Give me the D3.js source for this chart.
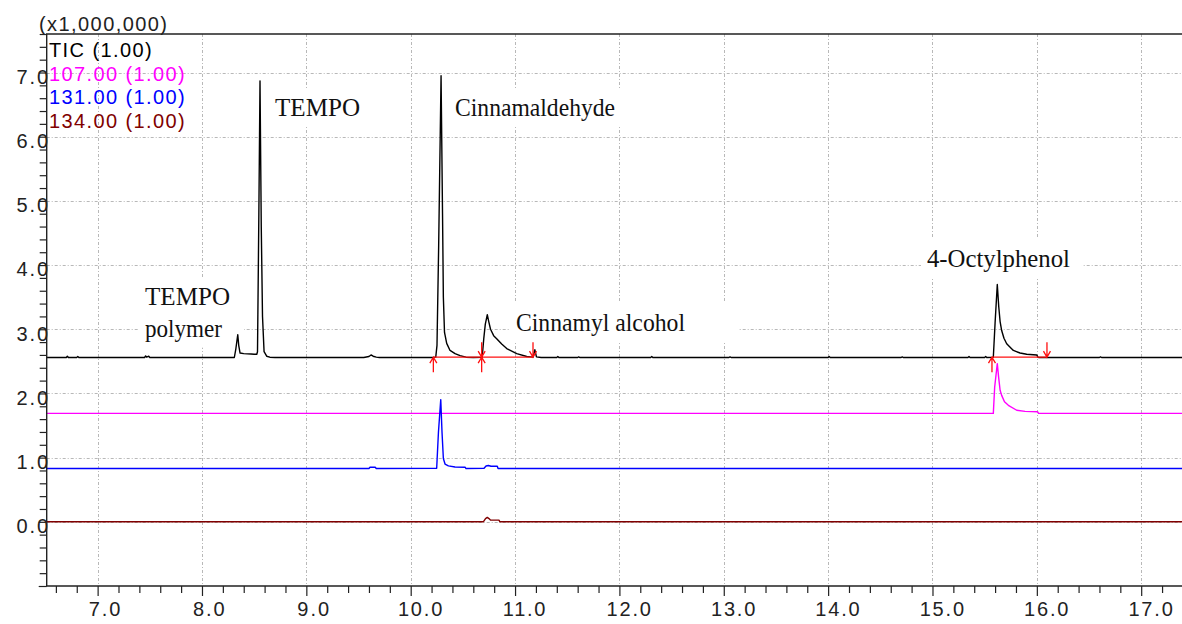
<!DOCTYPE html>
<html>
<head>
<meta charset="utf-8">
<script src="https://cdn.jsdelivr.net/npm/d3@7"></script>
<style>
  html, body { margin: 0; padding: 0; background: #fff; }
  svg { display: block; }
</style>
</head>
<body>
<svg id="chart" width="1182" height="624"></svg>
<script>
// ---------- data: retention time (min) vs intensity (x1,000,000), traces drawn with display offsets ----------
const ticTrace = [
  [6.512, 2.56], [6.70, 2.56], [6.71, 2.58], [6.72, 2.56], [6.80, 2.56], [6.81, 2.575], [6.82, 2.56],
  [7.45, 2.56], [7.46, 2.585], [7.47, 2.565], [7.49, 2.58], [7.50, 2.56],
  [8.31, 2.56], [8.325, 2.70], [8.343, 2.915], [8.352, 2.75], [8.365, 2.63], [8.40, 2.62], [8.47, 2.615],
  [8.50, 2.61], [8.525, 2.61], [8.532, 2.65], [8.545, 4.8], [8.556, 6.87], [8.568, 4.6], [8.580, 3.2],
  [8.595, 2.65], [8.62, 2.58], [8.65, 2.565], [8.70, 2.56],
  [9.55, 2.56], [9.60, 2.575], [9.62, 2.60], [9.64, 2.58], [9.67, 2.565], [9.70, 2.56],
  [10.20, 2.56], [10.24, 2.565], [10.252, 2.75], [10.268, 4.3], [10.291, 6.95], [10.305, 4.8],
  [10.313, 3.5], [10.324, 2.95], [10.345, 2.78], [10.377, 2.67], [10.425, 2.62], [10.473, 2.59],
  [10.53, 2.565], [10.60, 2.56],
  [10.685, 2.565], [10.700, 2.85], [10.715, 3.08], [10.734, 3.226], [10.748, 3.12], [10.765, 3.0],
  [10.795, 2.90], [10.824, 2.853], [10.872, 2.77], [10.920, 2.70], [11.016, 2.62], [11.112, 2.575],
  [11.172, 2.565], [11.19, 2.68], [11.205, 2.57], [11.25, 2.56],
  [11.40, 2.56], [11.41, 2.575], [11.42, 2.56], [11.60, 2.56], [11.61, 2.57], [11.62, 2.56],
  [12.30, 2.56], [12.31, 2.575], [12.32, 2.56], [13.05, 2.56], [13.06, 2.57], [13.07, 2.56],
  [14.00, 2.56], [14.01, 2.575], [14.02, 2.56], [14.70, 2.56], [14.71, 2.57], [14.72, 2.56],
  [15.34, 2.56], [15.35, 2.575], [15.36, 2.56], [15.50, 2.56], [15.51, 2.575], [15.52, 2.56],
  [15.583, 2.565], [15.600, 3.1], [15.621, 3.697], [15.635, 3.35], [15.648, 3.12], [15.663, 2.98],
  [15.685, 2.86], [15.711, 2.775], [15.775, 2.67], [15.839, 2.63], [15.903, 2.61], [15.999, 2.60],
  [16.01, 2.565], [16.02, 2.56], [16.60, 2.56], [16.61, 2.57], [16.62, 2.56], [17.391, 2.56]
];
const mz107Trace = [
  [6.512, 1.69], [15.583, 1.69], [15.596, 2.1], [15.621, 2.464], [15.634, 2.25], [15.648, 2.05],
  [15.663, 1.97], [15.690, 1.87], [15.727, 1.815], [15.807, 1.738], [15.887, 1.72], [16.008, 1.715],
  [16.016, 1.69], [17.391, 1.69]
];
const mz131Trace = [
  [6.512, 0.83], [9.60, 0.83], [9.61, 0.85], [9.66, 0.85], [9.67, 0.83],
  [10.249, 0.835], [10.266, 1.4], [10.288, 1.904], [10.300, 1.4], [10.313, 0.986], [10.329, 0.90],
  [10.361, 0.871], [10.425, 0.855], [10.521, 0.851], [10.53, 0.83],
  [10.703, 0.835], [10.722, 0.87], [10.744, 0.877], [10.770, 0.866], [10.830, 0.866], [10.837, 0.83],
  [17.391, 0.83]
];
const mz134Trace = [
  [6.512, 0], [10.696, 0], [10.717, 0.05], [10.734, 0.068], [10.750, 0.05], [10.766, 0.026],
  [10.846, 0.026], [10.855, 0], [17.391, 0]
];

// legend entries
const legendLabels = ["TIC (1.00)", "107.00 (1.00)", "131.00 (1.00)", "134.00 (1.00)"];
const unitLabel = "(x1,000,000)";

// integration marks on the TIC (start / end times) and their baseline level
const peakStart = [10.217, 10.680, 15.570];
const peakEnd = [10.680, 11.172, 16.097];
const integBase = 2.565;

// compound annotations: text lines, anchor time, anchor intensity (baseline of first line)
const annoLines = [["TEMPO", "polymer"], ["TEMPO"], ["Cinnamaldehyde"], ["Cinnamyl alcohol"], ["4-Octylphenol"]];
const annoTime = [7.454, 8.700, 10.425, 11.009, 14.947];
const annoValue = [3.378, 6.322, 6.322, 2.973, 3.974];

// axis ranges and ticks
const xDomain = [6.512, 17.391];
const yDomain = [-1.0, 7.6];
const xMajor = [7, 8, 9, 10, 11, 12, 13, 14, 15, 16, 17];
const yMajor = [0, 1, 2, 3, 4, 5, 6, 7];

// ---------- layout / styles ----------
const plotLeft = 46.7, plotRight = 1182, plotTop = 34, plotBottom = 586;
const seriesColors = ["#000000", "#ff00ff", "#0000ff", "#800000"];
const annoWidths = [[85, 77], [85], [160], [169], [143]];
const annoPadRight = [14, 12, 12, 54, 12];
const sansFont = "'Liberation Sans', Arial, sans-serif";
const serifFont = "'Liberation Serif', 'Times New Roman', serif";
const gridColor = "#b8b8b8";
const widen = 1.14;

const svg = d3.select("#chart");
const x = d3.scaleLinear().domain(xDomain).range([plotLeft, plotRight]);
const y = d3.scaleLinear().domain(yDomain).range([plotBottom, plotTop]);

// widen sans text to match the screen font's spacing
function widenText(sel) {
  sel.each(function () {
    const len = this.getComputedTextLength();
    d3.select(this).attr("textLength", len * widen).attr("lengthAdjust", "spacing");
  });
}

// grid
const grid = svg.append("g").attr("stroke", gridColor).attr("stroke-width", 1)
  .attr("stroke-dasharray", "3,2,1,2").attr("fill", "none");
grid.selectAll("line.v").data(xMajor).join("line").attr("class", "v")
  .attr("x1", d => Math.round(x(d)) + 0.5).attr("x2", d => Math.round(x(d)) + 0.5)
  .attr("y1", plotTop).attr("y2", plotBottom);
grid.selectAll("line.h").data(yMajor).join("line").attr("class", "h")
  .attr("x1", plotLeft).attr("x2", plotRight)
  .attr("y1", d => Math.round(y(d)) + 0.5).attr("y2", d => Math.round(y(d)) + 0.5);

// annotations with white boxes
const annoG = svg.append("g");
annoLines.forEach((lines, i) => {
  const g = annoG.append("g");
  const rect = g.append("rect").attr("fill", "#fff");
  const tx = x(annoTime[i]), ty = y(annoValue[i]);
  lines.forEach((s, j) => {
    g.append("text")
      .attr("x", tx).attr("y", ty + j * 31.7)
      .attr("font-family", serifFont).attr("font-size", 26)
      .attr("fill", "#111")
      .attr("textLength", annoWidths[i][j]).attr("lengthAdjust", "spacingAndGlyphs")
      .text(s);
  });
  const bb = g.node().getBBox();
  rect.attr("x", bb.x - 6).attr("y", bb.y - 5)
    .attr("width", bb.width + 6 + annoPadRight[i]).attr("height", bb.height + 10);
});

// axes ticks
const xMinor = d3.range(66, 174, 2).map(v => v / 10).filter(v => v % 1 !== 0 && v >= xDomain[0] && v <= xDomain[1]);
const yMinor = d3.range(-10, 77, 2).map(v => v / 10).filter(v => v % 1 !== 0);

const xAxisMinor = d3.axisBottom(x).tickValues(xMinor).tickSize(7).tickSizeOuter(0).tickFormat("");
const xAxisMajor = d3.axisBottom(x).tickValues(xMajor).tickSize(10).tickSizeOuter(0).tickFormat(d3.format(".1f"));
const yAxisMinor = d3.axisLeft(y).tickValues(yMinor).tickSize(7).tickSizeOuter(0).tickFormat("");
const yAxisMajor = d3.axisLeft(y).tickValues(yMajor.concat([-1])).tickSize(8).tickSizeOuter(0).tickFormat(d3.format(".1f"));

function styleAxis(g) {
  g.select(".domain").remove();
  g.selectAll(".tick line").attr("stroke", "#222").attr("stroke-width", 1.2);
  g.selectAll(".tick text").attr("font-family", sansFont).attr("font-size", 20).attr("fill", "#222");
}
svg.append("g").attr("transform", `translate(0,${plotBottom})`).call(xAxisMinor).call(styleAxis);
const gx = svg.append("g").attr("transform", `translate(0,${plotBottom})`).call(xAxisMajor).call(styleAxis);
gx.selectAll(".tick text").attr("dy", null).attr("y", 30).call(widenText)
  .each(function () {
    const w = +d3.select(this).attr("textLength");
    d3.select(this).attr("x", w * 0.2);
  });

svg.append("g").attr("transform", `translate(${plotLeft},0)`).call(yAxisMinor).call(styleAxis);
const gy = svg.append("g").attr("transform", `translate(${plotLeft},0)`).call(yAxisMajor).call(styleAxis);
gy.selectAll(".tick").filter(d => d < 0).select("text").remove();
gy.selectAll(".tick text").attr("dy", null).attr("y", 10.8).attr("x", 1.5).call(widenText);

// traces
const line = d3.line().x(d => x(d[0])).y(d => y(d[1]));
const traces = [ticTrace, mz107Trace, mz131Trace, mz134Trace];
svg.append("g").attr("fill", "none")
  .selectAll("path").data(traces).join("path")
  .attr("d", line)
  .attr("stroke", (d, i) => seriesColors[i])
  .attr("stroke-width", 1.4)
  .attr("stroke-linejoin", "round");

// integration baselines and start/end arrows
const integ = svg.append("g").attr("stroke", "#ff1010").attr("stroke-width", 1.3).attr("fill", "none");
const yb = y(integBase);
peakStart.forEach((s, i) => {
  integ.append("line").attr("x1", x(s)).attr("x2", x(peakEnd[i])).attr("y1", yb).attr("y2", yb);
});
peakStart.forEach(s => {
  const xs = x(s);
  integ.append("path").attr("d", `M${xs},${yb + 15}V${yb}M${xs - 3.5},${yb + 6}L${xs},${yb}L${xs + 3.5},${yb + 6}`);
});
peakEnd.forEach(e => {
  const xe = x(e);
  integ.append("path").attr("d", `M${xe},${yb - 15}V${yb}M${xe - 3.5},${yb - 6}L${xe},${yb}L${xe + 3.5},${yb - 6}`);
});

// frame
const frame = svg.append("g").attr("stroke", "#222").attr("stroke-width", 1.4).attr("fill", "none");
frame.append("path").attr("d", `M${plotRight},${plotTop}H${plotLeft}V${plotBottom}H${plotRight}`);

// unit and legend
svg.append("text").attr("x", 39).attr("y", 30.5)
  .attr("font-family", sansFont).attr("font-size", 20).attr("fill", "#222")
  .text(unitLabel).call(widenText);
svg.append("g").selectAll("text").data(legendLabels).join("text")
  .attr("x", 49).attr("y", (d, i) => 57 + i * 23.6)
  .attr("font-family", sansFont).attr("font-size", 20)
  .attr("fill", (d, i) => seriesColors[i])
  .text(d => d).call(widenText);
</script>
</body>
</html>
